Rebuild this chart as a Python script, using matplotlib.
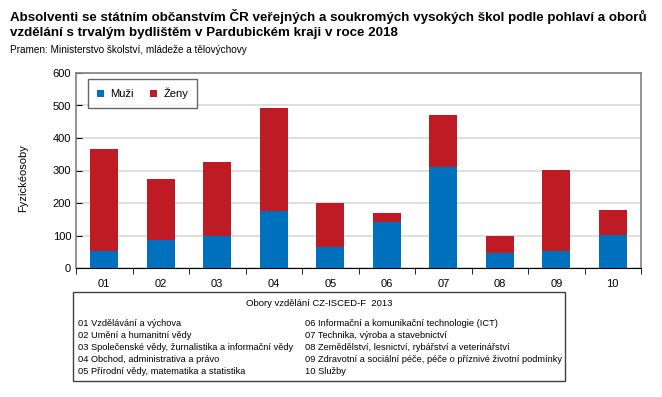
import numpy as np
import matplotlib.pyplot as plt
from matplotlib.patches import Rectangle

plt.rcParams['font.family'] = ['Liberation Sans', 'DejaVu Sans']

# Data
obory = ['01', '02', '03', '04', '05', '06', '07', '08', '09', '10']
muzi = [51, 87, 100, 176, 64, 143, 311, 45, 53, 103]
zeny = [315, 188, 227, 316, 136, 26, 160, 55, 250, 75]

popisky_vlevo = ['01 Vzdělávání a výchova',
                 '02 Umění a humanitní vědy',
                 '03 Společenské vědy, žurnalistika a informační vědy',
                 '04 Obchod, administrativa a právo',
                 '05 Přírodní vědy, matematika a statistika']
popisky_vpravo = ['06 Informační a komunikační technologie (ICT)',
                  '07 Technika, výroba a stavebnictví',
                  '08 Zemědělství, lesnictví, rybářství a veterinářství',
                  '09 Zdravotní a sociální péče, péče o příznivé životní podmínky',
                  '10 Služby']

fig = plt.figure(figsize=(6.62, 3.97), dpi=100)
W, H = 662, 397

fig.text(10 / W, 1 - 17 / H, 'Absolventi se státním občanstvím ČR veřejných a soukromých vysokých škol podle pohlaví a oborů',
         fontsize=9.6, fontweight='bold', va='center', ha='left')
fig.text(10 / W, 1 - 33 / H, 'vzdělání s trvalým bydlištěm v Pardubickém kraji v roce 2018',
         fontsize=9.6, fontweight='bold', va='center', ha='left')
fig.text(10 / W, 1 - 50 / H, 'Pramen: Ministerstvo školství, mládeže a tělovýchovy',
         fontsize=7.2, va='center', ha='left')

ax = fig.add_axes([76 / W, 1 - 268 / H, (641 - 76) / W, 195 / H])
x = np.arange(len(obory))
blue = '#0071bd'
red = '#be1b24'
ax.bar(x, muzi, width=0.5, color=blue, label='Muži', zorder=3)
ax.bar(x, zeny, width=0.5, bottom=muzi, color=red, label='Ženy', zorder=3)

ax.set_xlim(-0.5, len(obory) - 0.5)
ax.set_ylim(0, 600)
ax.set_yticks(range(0, 601, 100))
ax.yaxis.grid(True, color='#d9d9d9', linewidth=1.2, zorder=0)
ax.set_xticks(x)
ax.set_xticklabels(obory)
ax.set_xticks(np.arange(-0.5, len(obory)), minor=True)
ax.tick_params(axis='x', which='major', length=0, labelsize=8, pad=8)
ax.tick_params(axis='x', which='minor', length=4, direction='out')
ax.tick_params(axis='y', labelsize=8, length=4, direction='in')
ax.set_ylabel('Fyzickéosoby', fontsize=8)
ax.yaxis.set_label_coords(-48 / 565, 0.46)
for s in ['left', 'top', 'right']:
    ax.spines[s].set_color('#808080')
    ax.spines[s].set_linewidth(1.2)
ax.spines['bottom'].set_color('black')

leg = ax.legend(loc='upper left', bbox_to_anchor=(12 / 565, 1 - 6 / 195), ncol=2,
                fontsize=8, frameon=True, fancybox=False, edgecolor='#404040',
                handlelength=0.6, handleheight=0.6, handletextpad=0.6,
                columnspacing=1.5, borderpad=0.8, borderaxespad=0)
leg.get_frame().set_linewidth(1.0)

# box with categories
fig.patches.append(Rectangle((73 / W, 1 - 381 / H), (565 - 73) / W, (381 - 292) / H,
                             transform=fig.transFigure, fill=False,
                             edgecolor='#404040', linewidth=1.0))
fig.text(319 / W, 1 - 303 / H, 'Obory vzdělání CZ-ISCED-F  2013', fontsize=6.8,
         ha='center', va='center')
for i, (l, r) in enumerate(zip(popisky_vlevo, popisky_vpravo)):
    yy = 1 - (323 + i * 12) / H
    fig.text(78 / W, yy, l, fontsize=6.7, ha='left', va='center')
    fig.text(305 / W, yy, r, fontsize=6.7, ha='left', va='center')

fig.savefig('out.png', dpi=100)
